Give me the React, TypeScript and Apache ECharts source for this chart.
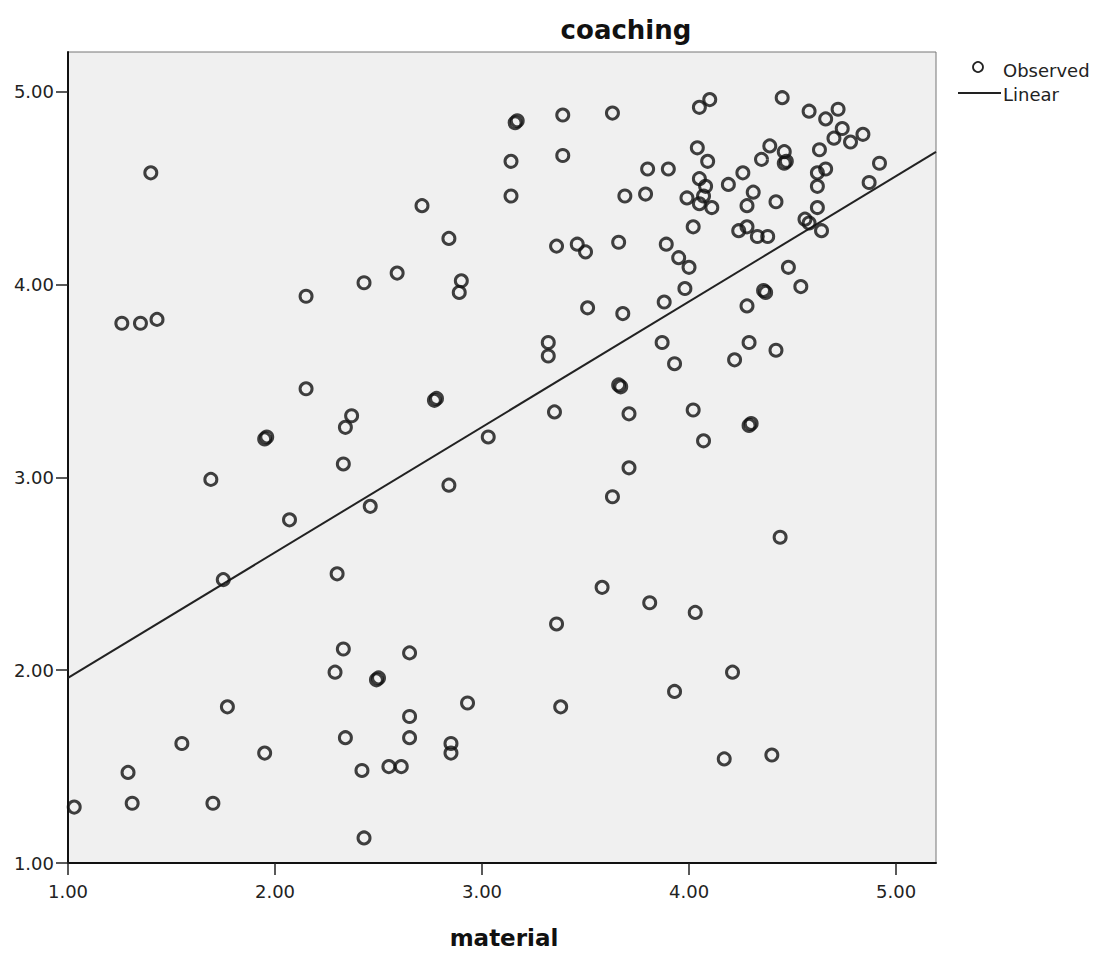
import React, { useEffect, useRef } from "react";
import * as echarts from "echarts";

const materialValues = [
  1.03, 1.29, 1.31, 1.26, 1.35, 1.43, 1.40, 1.55, 1.70, 1.69, 1.75, 1.77, 1.95, 1.95, 1.96, 2.07,
  2.15, 2.15, 2.30, 2.29, 2.33, 2.34, 2.33, 2.34, 2.37, 2.43, 2.46, 2.49, 2.50, 2.42, 2.43, 2.55,
  2.61, 2.59, 2.65, 2.65, 2.65, 2.71, 2.77, 2.78, 2.84, 2.84, 2.85, 2.85, 2.90, 2.89, 2.93, 3.03,
  3.16, 3.17, 3.14, 3.14, 3.39, 3.39, 3.63, 3.80, 3.90, 3.69, 3.79, 3.36, 3.46, 3.50, 3.66, 3.89,
  3.51, 3.68, 3.88, 3.32, 3.32, 3.66, 3.67, 3.71, 3.35, 3.71, 3.87, 3.93, 4.05, 4.10, 4.45, 4.58,
  4.72, 4.66, 4.74, 4.70, 4.78, 4.84, 4.04, 4.09, 4.39, 4.46, 4.46, 4.47, 4.35, 4.63, 4.92, 4.62,
  4.66, 4.62, 4.87, 4.05, 4.08, 4.07, 3.99, 4.05, 4.11, 4.19, 4.26, 4.31, 4.28, 4.42, 4.02, 4.62,
  4.24, 4.28, 4.33, 4.38, 4.56, 4.58, 4.64, 3.95, 4.00, 3.98, 4.28, 4.36, 4.37, 4.48, 4.54, 4.29,
  4.42, 4.22, 4.02, 4.07, 4.29, 4.30, 3.63, 4.44, 3.58, 3.81, 4.03, 3.36, 4.21, 3.93, 3.38, 4.17,
  4.40,
];

const coachingValues = [
  1.29, 1.47, 1.31, 3.80, 3.80, 3.82, 4.58, 1.62, 1.31, 2.99, 2.47, 1.81, 1.57, 3.20, 3.21, 2.78,
  3.94, 3.46, 2.50, 1.99, 2.11, 1.65, 3.07, 3.26, 3.32, 4.01, 2.85, 1.95, 1.96, 1.48, 1.13, 1.50,
  1.50, 4.06, 2.09, 1.76, 1.65, 4.41, 3.40, 3.41, 4.24, 2.96, 1.62, 1.57, 4.02, 3.96, 1.83, 3.21,
  4.84, 4.85, 4.64, 4.46, 4.88, 4.67, 4.89, 4.60, 4.60, 4.46, 4.47, 4.20, 4.21, 4.17, 4.22, 4.21,
  3.88, 3.85, 3.91, 3.70, 3.63, 3.48, 3.47, 3.33, 3.34, 3.05, 3.70, 3.59, 4.92, 4.96, 4.97, 4.90,
  4.91, 4.86, 4.81, 4.76, 4.74, 4.78, 4.71, 4.64, 4.72, 4.69, 4.63, 4.64, 4.65, 4.70, 4.63, 4.58,
  4.60, 4.51, 4.53, 4.55, 4.51, 4.46, 4.45, 4.42, 4.40, 4.52, 4.58, 4.48, 4.41, 4.43, 4.30, 4.40,
  4.28, 4.30, 4.25, 4.25, 4.34, 4.32, 4.28, 4.14, 4.09, 3.98, 3.89, 3.97, 3.96, 4.09, 3.99, 3.70,
  3.66, 3.61, 3.35, 3.19, 3.27, 3.28, 2.90, 2.69, 2.43, 2.35, 2.30, 2.24, 1.99, 1.89, 1.81, 1.54,
  1.56,
];

const linearFitX = [1.0, 5.193];
const linearFitY = [1.96, 4.689];

const tickValues = [1, 2, 3, 4, 5];
const titleText = "coaching";
const xAxisTitle = "material";
const legendLabels = ["Observed", "Linear"];

const App: React.FC = () => {
  const ref = useRef<HTMLDivElement>(null);

  useEffect(() => {
    if (!ref.current) return;
    const chart = echarts.init(ref.current, null, { renderer: "svg" });
    const points = materialValues.map((x, i) => [x, coachingValues[i]]);
    const fit = linearFitX.map((x, i) => [x, linearFitY[i]]);
    const font = "'DejaVu Sans', Verdana, sans-serif";
    const axisCommon = {
      type: "value" as const,
      min: 1,
      max: 5.193,
      interval: 1,
      splitLine: { show: false },
      axisLine: { show: true, lineStyle: { color: "#111", width: 2 } },
      axisTick: {
        show: true,
        length: 12,
        customValues: tickValues,
        lineStyle: { color: "#222", width: 1.5 },
      },
      axisLabel: {
        customValues: tickValues,
        formatter: (v: number) => v.toFixed(2),
        color: "#222",
        fontSize: 18,
        fontFamily: font,
      },
    };
    chart.setOption({
      animation: false,
      grid: {
        left: 68,
        top: 52,
        width: 868,
        height: 811,
        show: true,
        backgroundColor: "#f0f0f0",
        borderColor: "#777",
        borderWidth: 1,
      },
      xAxis: {
        ...axisCommon,
        axisLabel: { ...axisCommon.axisLabel, margin: 19 },
      },
      yAxis: {
        ...axisCommon,
        max: 5.207,
        axisLabel: { ...axisCommon.axisLabel, margin: 14 },
      },
      series: [
        {
          type: "scatter",
          data: points,
          symbol: "circle",
          symbolSize: 12,
          itemStyle: {
            color: "rgba(0,0,0,0)",
            borderColor: "#111",
            borderWidth: 3,
          },
          z: 3,
        },
        {
          type: "line",
          data: fit,
          symbol: "none",
          lineStyle: { color: "#222", width: 2 },
          z: 2,
        },
      ],
      graphic: [
        {
          type: "text",
          x: 626,
          y: 30,
          style: {
            text: titleText,
            font: `bold 26px ${font}`,
            fill: "#111",
            align: "center",
            verticalAlign: "middle",
          },
        },
        {
          type: "text",
          x: 504,
          y: 938,
          style: {
            text: xAxisTitle,
            font: `bold 23px ${font}`,
            fill: "#111",
            align: "center",
            verticalAlign: "middle",
          },
        },
        {
          type: "circle",
          shape: { cx: 978, cy: 67, r: 5 },
          style: { fill: "none", stroke: "#222", lineWidth: 1.8 },
        },
        {
          type: "text",
          x: 1003,
          y: 70,
          style: {
            text: legendLabels[0],
            font: `18px ${font}`,
            fill: "#222",
            align: "left",
            verticalAlign: "middle",
          },
        },
        {
          type: "line",
          shape: { x1: 958, y1: 93, x2: 1001, y2: 93 },
          style: { stroke: "#222", lineWidth: 2 },
        },
        {
          type: "text",
          x: 1003,
          y: 94,
          style: {
            text: legendLabels[1],
            font: `18px ${font}`,
            fill: "#222",
            align: "left",
            verticalAlign: "middle",
          },
        },
      ],
    });
    return () => chart.dispose();
  }, []);

  return <div ref={ref} style={{ width: 1104, height: 954, position: "absolute", left: 0, top: 0 }} />;
};

export default App;
